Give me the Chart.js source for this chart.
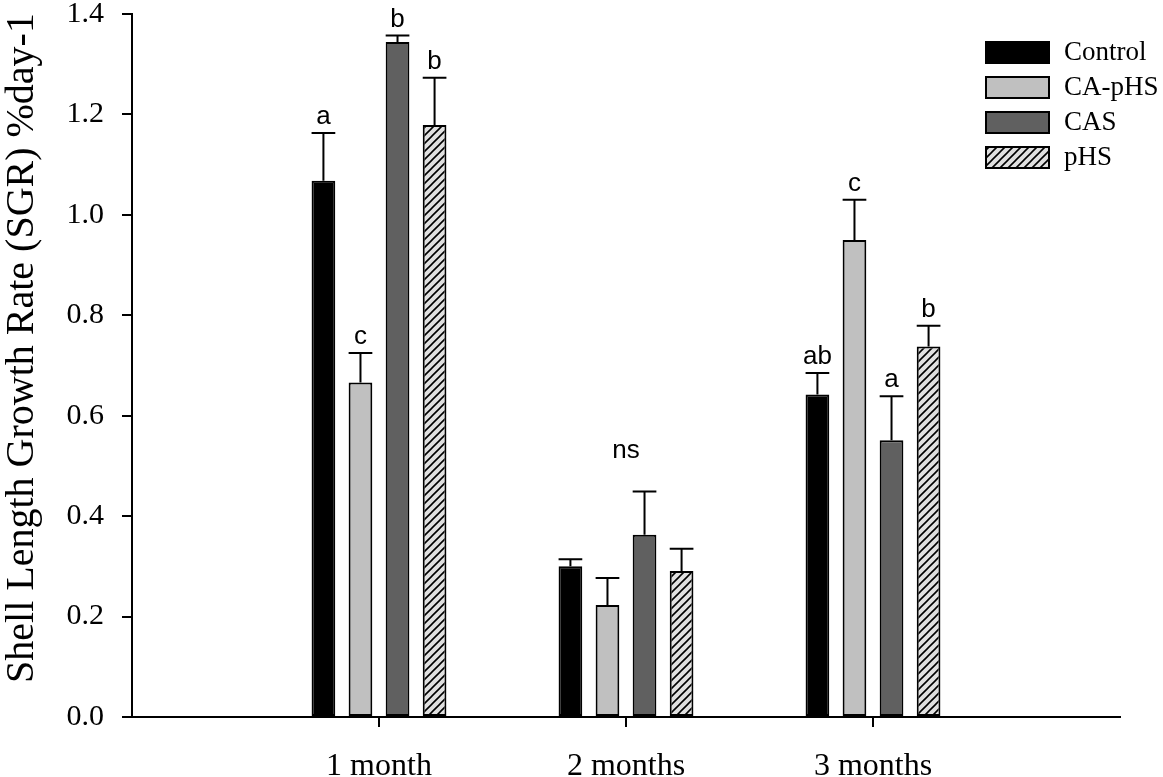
<!DOCTYPE html>
<html>
<head>
<meta charset="utf-8">
<script src="https://cdn.jsdelivr.net/npm/chart.js@4/dist/chart.umd.min.js"></script>
<style>
  html, body { margin: 0; padding: 0; background: #fff; }
  #wrap { width: 1163px; height: 777px; }
</style>
</head>
<body>
<div id="wrap"><canvas id="sgrChart"></canvas></div>
<script>
// empty slots at both ends keep the axis running past the groups
const categories = ["", "1 month", "2 months", "3 months", ""];
const seriesNames = ["Control", "CA-pHS", "CAS", "pHS"];

const controlMeans = [null, 1.068, 0.300, 0.642, null];
const controlErr = [null, 0.095, 0.014, 0.043, null];
const caphsMeans = [null, 0.666, 0.223, 0.950, null];
const caphsErr = [null, 0.059, 0.054, 0.080, null];
const casMeans = [null, 1.344, 0.363, 0.551, null];
const casErr = [null, 0.013, 0.086, 0.088, null];
const phsMeans = [null, 1.179, 0.291, 0.738, null];
const phsErr = [null, 0.094, 0.044, 0.041, null];

const controlLetters = ["", "a", "", "ab", ""];
const caphsLetters = ["", "c", "", "c", ""];
const casLetters = ["", "b", "", "a", ""];
const phsLetters = ["", "b", "", "b", ""];
const groupNotes = ["", "", "ns", "", ""];

const yTicks = [0, 0.2, 0.4, 0.6, 0.8, 1.0, 1.2, 1.4];
const yTitle = "Shell Length Growth Rate (SGR) %day-1";

function hatchPattern() {
    const c = document.createElement("canvas");
    c.width = 8;
    c.height = 8;
    const g = c.getContext("2d");
    g.fillStyle = "#e0e0e0";
    g.fillRect(0, 0, 8, 8);
    g.strokeStyle = "#000";
    g.lineWidth = 1.6;
    g.beginPath();
    g.moveTo(-2, 10); g.lineTo(10, -2);
    g.moveTo(-2, 2); g.lineTo(2, -2);
    g.moveTo(6, 10); g.lineTo(10, 6);
    g.stroke();
    return g.createPattern(c, "repeat");
}

const errSets = [controlErr, caphsErr, casErr, phsErr];
const letterSets = [controlLetters, caphsLetters, casLetters, phsLetters];

// error bars (upper only) plus the significance letters
const errorBars = {
    id: "errorBars",
    afterDatasetsDraw(chart) {
        const ctx = chart.ctx;
        const y = chart.scales.y;
        ctx.save();
        ctx.strokeStyle = "#000";
        ctx.lineWidth = 2;
        ctx.fillStyle = "#000";
        ctx.font = "26px 'Liberation Sans', Arial, sans-serif";
        ctx.textAlign = "center";
        ctx.textBaseline = "alphabetic";
        chart.data.datasets.forEach((ds, i) => {
            const meta = chart.getDatasetMeta(i);
            meta.data.forEach((bar, j) => {
                const v = ds.data[j];
                if (v === null) return;
                const top = y.getPixelForValue(v + errSets[i][j]);
                const half = bar.width / 2;
                ctx.beginPath();
                ctx.moveTo(bar.x, bar.y);
                ctx.lineTo(bar.x, top);
                ctx.moveTo(bar.x - half, top);
                ctx.lineTo(bar.x + half, top);
                ctx.stroke();
                if (letterSets[i][j]) ctx.fillText(letterSets[i][j], bar.x, top - 9);
            });
        });
        // group-wide note sits above the tallest error bar
        groupNotes.forEach((note, j) => {
            if (!note) return;
            let best = Infinity;
            chart.data.datasets.forEach((ds, i) => {
                best = Math.min(best, y.getPixelForValue(ds.data[j] + errSets[i][j]));
            });
            ctx.fillText(note, chart.scales.x.getPixelForValue(j), best - 34);
        });
        ctx.restore();
    },
};

// legend inside the plot at top right, y title sits a bit above centre
const boxLegend = {
    id: "boxLegend",
    afterDraw(chart) {
        const ctx = chart.ctx;
        ctx.save();
        ctx.font = "27px 'Liberation Serif', 'Times New Roman', serif";
        ctx.textBaseline = "middle";
        ctx.textAlign = "left";
        chart.data.datasets.forEach((ds, i) => {
            const top = 42 + i * 35;
            ctx.fillStyle = ds.backgroundColor;
            ctx.fillRect(986, top, 63, 21);
            ctx.strokeStyle = "#000";
            ctx.lineWidth = 2;
            ctx.strokeRect(986, top, 63, 21);
            ctx.fillStyle = "#000";
            ctx.fillText(ds.label, 1064, top + 11);
        });

        ctx.translate(22, 348);
        ctx.rotate(-Math.PI / 2);
        ctx.textAlign = "center";
        ctx.font = "40px 'Liberation Serif', 'Times New Roman', serif";
        ctx.fillText(yTitle, 0, 0);
        ctx.restore();
    },
};

function initChart() {
    const ctx = document.getElementById("sgrChart").getContext("2d");
    const fills = ["#000000", "#c0c0c0", "#606060", hatchPattern()];
    const means = [controlMeans, caphsMeans, casMeans, phsMeans];

    new Chart(ctx, {
        type: "bar",
        data: {
            labels: categories,
            datasets: seriesNames.map((name, i) => ({
                label: name,
                data: means[i],
                backgroundColor: fills[i],
                borderColor: "#000",
                borderWidth: 2,
                borderSkipped: false,
                categoryPercentage: 0.6,
                barPercentage: 0.64,
            })),
        },
        options: {
            responsive: true,
            maintainAspectRatio: false,
            animation: false,
            layout: { padding: { top: 14, right: 43, left: 0, bottom: 0 } },
            plugins: {
                legend: { display: false },
                tooltip: { enabled: false },
            },
            scales: {
                x: {
                    offset: false,
                    grid: {
                        offset: false,
                        drawOnChartArea: false,
                        tickLength: 10,
                        lineWidth: 2,
                        color: (c) => (categories[c.index] ? "#000" : "rgba(0,0,0,0)"),
                    },
                    border: { display: true, color: "#000", width: 2 },
                    ticks: {
                        color: "#000",
                        padding: 20,
                        maxRotation: 0,
                        autoSkip: false,
                        font: { family: "'Liberation Serif', 'Times New Roman', serif", size: 32 },
                    },
                    afterFit: (s) => {
                        s.height = 60;
                        s.paddingLeft = 0;
                        s.paddingRight = 0;
                    },
                },
                y: {
                    min: 0,
                    max: 1.4,
                    afterBuildTicks: (s) => { s.ticks = yTicks.map((v) => ({ value: v })); },
                    grid: { drawOnChartArea: false, tickLength: 10, lineWidth: 2, color: "#000" },
                    border: { display: true, color: "#000", width: 2 },
                    ticks: {
                        color: "#000",
                        padding: 18,
                        callback: (v) => Number(v).toFixed(1),
                        font: { family: "'Liberation Serif', 'Times New Roman', serif", size: 30 },
                    },
                    afterFit: (s) => {
                        s.width = 132;
                        s.paddingTop = 0;
                        s.paddingBottom = 0;
                    },
                },
            },
        },
        plugins: [errorBars, boxLegend],
    });
}

document.addEventListener("DOMContentLoaded", initChart);
</script>
</body>
</html>
